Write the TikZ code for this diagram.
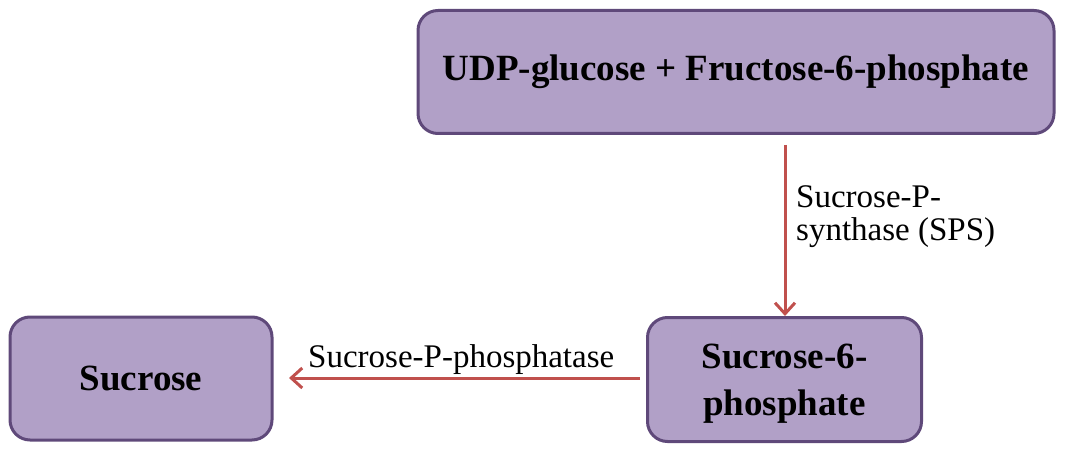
\documentclass[tikz,border=0pt]{standalone}
\usepackage{fontspec}
\setmainfont{Liberation Serif}
\usetikzlibrary{arrows.meta}
\definecolor{boxfill}{HTML}{B1A0C7}
\definecolor{boxline}{HTML}{5F497A}
\definecolor{arrred}{HTML}{C0504D}
\begin{document}
\begin{tikzpicture}[x=1pt,y=-1pt,
  mybox/.style={draw=boxline,fill=boxfill,line width=3pt,rounded corners=20pt,inner sep=0pt,font=\bfseries\fontsize{37}{47}\selectfont,align=center},
  myarrow/.style={draw=arrred,line width=3pt,-{Straight Barb[length=11pt,width=20pt,line width=3pt]}},
  lbl/.style={font=\fontsize{33}{33}\selectfont,inner sep=0pt,align=left}]
\useasboundingbox (0,0) rectangle (1070,470);
\node[mybox,minimum width=636pt,minimum height=123pt] (top) at (736,72) {UDP-glucose + Fructose-6-phosphate};
\node[mybox,minimum width=262pt,minimum height=123pt] (suc) at (141,378.5) {Sucrose};
\node[mybox,minimum width=274pt,minimum height=124pt,text depth=0pt] (s6p) at (784.5,379.5) {Sucrose-6-\\phosphate};
\coordinate (a1) at (785,145);
\coordinate (a2) at (785,316);
\coordinate (b1) at (640,378);
\coordinate (b2) at (289,378);
\draw[myarrow] (a1) -- (a2);
\draw[myarrow] (b1) -- (b2);
\node[lbl,anchor=north west] (l1) at (796,185.5) {Sucrose-P-\\synthase (SPS)};
\node[lbl,anchor=base west] (l2) at (308,367) {Sucrose-P-phosphatase};
\end{tikzpicture}
\end{document}
